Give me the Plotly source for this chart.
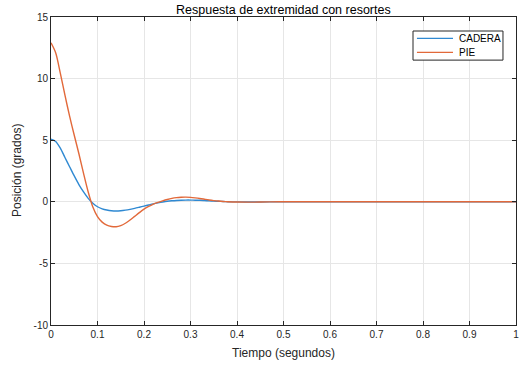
import plotly.graph_objects as go

t = [0.00, 0.01, 0.02, 0.03, 0.04, 0.05, 0.06, 0.07, 0.08, 0.09,
     0.10, 0.11, 0.12, 0.13, 0.14, 0.15, 0.16, 0.17, 0.18, 0.19,
     0.20, 0.21, 0.22, 0.23, 0.24, 0.25, 0.26, 0.27, 0.28, 0.29,
     0.30, 0.31, 0.32, 0.33, 0.34, 0.35, 0.36, 0.37, 0.38, 0.40,
     0.43, 0.47, 0.50, 0.60, 0.70, 0.80, 0.90, 1.00]

cadera = [5.08, 4.90, 4.35, 3.60, 2.85, 2.10, 1.40, 0.80, 0.28, -0.12,
          -0.40, -0.57, -0.67, -0.73, -0.75, -0.73, -0.68, -0.61, -0.53, -0.44,
          -0.35, -0.26, -0.17, -0.09, -0.02, 0.04, 0.08, 0.11, 0.13, 0.14,
          0.14, 0.13, 0.12, 0.10, 0.08, 0.06, 0.04, 0.025, 0.01, -0.01,
          -0.015, -0.005, 0.0, 0.0, 0.0, 0.0, 0.0, 0.0]

pie = [12.9, 12.1, 10.45, 8.65, 6.95, 5.4, 3.9, 2.3, 0.8, -0.42,
       -1.2, -1.65, -1.9, -2.0, -2.02, -1.93, -1.74, -1.48, -1.18, -0.88,
       -0.6, -0.38, -0.18, -0.04, 0.08, 0.19, 0.28, 0.34, 0.37, 0.38,
       0.36, 0.32, 0.27, 0.21, 0.15, 0.10, 0.06, 0.03, 0.01, -0.02,
       -0.03, -0.01, 0.0, 0.0, 0.0, 0.0, 0.0, 0.0]

series_names = ["CADERA", "PIE"]
series_colors = ["#2f89d2", "#e2693a"]

x_ticks = [0, 0.1, 0.2, 0.3, 0.4, 0.5, 0.6, 0.7, 0.8, 0.9, 1]
x_labels = ["0", "0.1", "0.2", "0.3", "0.4", "0.5", "0.6", "0.7", "0.8", "0.9", "1"]
y_ticks = [-10, -5, 0, 5, 10, 15]
y_labels = ["-10", "-5", "0", "5", "10", "15"]

FONT = "Liberation Sans, Arial, sans-serif"
AX = "#262626"

fig = go.Figure()
for name, ys, col in zip(series_names, [cadera, pie], series_colors):
    fig.add_trace(go.Scatter(x=t, y=ys, mode="lines", name=name,
                             line=dict(color=col, width=1.4, shape="spline", smoothing=0.8)))

axis_common = dict(showline=True, linecolor=AX, linewidth=1, mirror="ticks",
                   ticks="inside", ticklen=4, tickcolor=AX, tickwidth=1,
                   showgrid=True, gridcolor="#e6e6e6", gridwidth=1,
                   zeroline=False, automargin=False,
                   tickfont=dict(family=FONT, size=10, color=AX))

fig.update_xaxes(range=[0, 1], tickvals=x_ticks, ticktext=x_labels, **axis_common)
fig.update_yaxes(range=[-10, 15], tickvals=y_ticks, ticktext=y_labels, **axis_common)

# Legend box (MATLAB-style), placed in paper coordinates
L_x0, L_x1, L_y0, L_y1 = 0.7785, 0.972, 0.860, 0.9545
item_y = [0.9305, 0.885]
line_x0, line_x1, text_x = 0.787, 0.8645, 0.8725

shapes = [dict(type="rect", xref="paper", yref="paper", x0=L_x0, x1=L_x1, y0=L_y0, y1=L_y1,
               line=dict(color=AX, width=1), fillcolor="white", layer="above")]
annotations = [
    dict(text="Respuesta de extremidad con resortes", xref="paper", yref="paper",
         x=0.5, y=1.0, yshift=7, xanchor="center", yanchor="middle", showarrow=False,
         font=dict(family=FONT, size=12.5, color="black")),
    dict(text="Tiempo (segundos)", xref="paper", yref="paper",
         x=0.5, y=0, yshift=-28, xanchor="center", yanchor="middle", showarrow=False,
         font=dict(family=FONT, size=12, color=AX)),
    dict(text="Posición (grados)", xref="paper", yref="paper",
         x=0, xshift=-34, y=0.5, xanchor="center", yanchor="middle", showarrow=False,
         textangle=-90, font=dict(family=FONT, size=12, color=AX)),
]
for name, col, yy in zip(series_names, series_colors, item_y):
    shapes.append(dict(type="line", xref="paper", yref="paper", x0=line_x0, x1=line_x1,
                       y0=yy, y1=yy, line=dict(color=col, width=1.4), layer="above"))
    annotations.append(dict(text=name, xref="paper", yref="paper", x=text_x, y=yy,
                            xanchor="left", yanchor="middle", showarrow=False,
                            font=dict(family=FONT, size=10, color="black")))

fig.update_layout(
    width=520, height=368,
    margin=dict(l=51, r=4, t=17, b=43),
    paper_bgcolor="white", plot_bgcolor="white",
    font=dict(family=FONT, color=AX),
    showlegend=False,
    shapes=shapes,
    annotations=annotations,
)

fig.write_html("out.html", config={"displayModeBar": False},
               post_script="document.body.style.margin='0';document.body.style.padding='0';")
